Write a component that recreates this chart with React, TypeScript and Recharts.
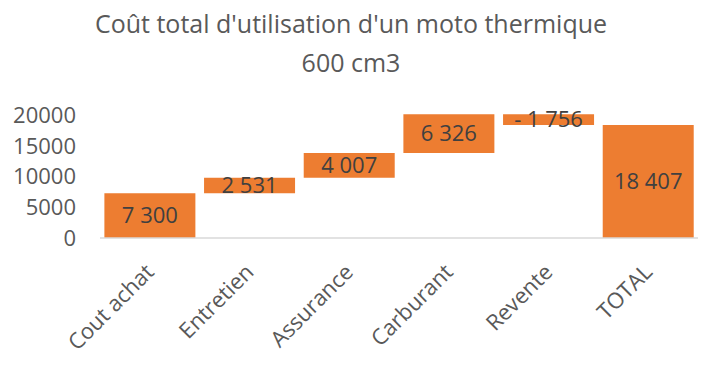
import { BarChart, Bar, XAxis, YAxis, LabelList } from "recharts";

const categories = ["Cout achat", "Entretien", "Assurance", "Carburant", "Revente", "TOTAL"];
const deltas = [7300, 2531, 4007, 6326, -1756];
const total = 18407;
const yTicks = [0, 5000, 10000, 15000, 20000];

const ORANGE = "#ED7D31";
const TEXT = "#595959";
const FONT = "'Open Sans', sans-serif";

const fmt = (v: number) => {
  const s = Math.abs(v)
    .toString()
    .replace(/\B(?=(\d{3})+(?!\d))/g, " ");
  return v < 0 ? `- ${s}` : s;
};

// waterfall: an invisible base plus the visible step
let running = 0;
const data = categories.map((name, i) => {
  if (i === deltas.length) {
    return { name, base: 0, value: total, label: fmt(total) };
  }
  const d = deltas[i];
  const base = Math.min(running, running + d);
  running += d;
  return { name, base, value: Math.abs(d), label: fmt(d) };
});

function XTick({ x, y, payload }: { x?: number; y?: number; payload?: { value: string } }) {
  const ty = (y ?? 0) + 30;
  return (
    <text
      x={x}
      y={ty}
      dy="0.35em"
      transform={`rotate(-45 ${x} ${ty})`}
      textAnchor="end"
      fill={TEXT}
      fontSize={22}
      fontFamily={FONT}
    >
      {payload?.value}
    </text>
  );
}

export default function App() {
  return (
    <div style={{ position: "absolute", left: 0, top: 0, width: 720, height: 365, background: "#fff" }}>
      <svg
        width={720}
        height={100}
        style={{ position: "absolute", left: 0, top: 0, pointerEvents: "none" }}
      >
        <text x={351} y={33} textAnchor="middle" fill={TEXT} fontSize={25} fontFamily={FONT}>
          Coût total d'utilisation d'un moto thermique
        </text>
        <text x={351} y={72} textAnchor="middle" fill={TEXT} fontSize={25} fontFamily={FONT}>
          600 cm3
        </text>
      </svg>
      <BarChart
        width={720}
        height={365}
        data={data}
        margin={{ top: 114, right: 22, left: 0, bottom: 0 }}
        barCategoryGap="4.4%"
      >
        <XAxis
          dataKey="name"
          height={127}
          tickLine={false}
          tickSize={0}
          tickMargin={0}
          axisLine={{ stroke: "#D9D9D9", strokeWidth: 1.5 }}
          interval={0}
          tick={<XTick />}
        />
        <YAxis
          width={100}
          domain={[0, 20200]}
          ticks={yTicks}
          interval={0}
          axisLine={false}
          tickLine={false}
          tickSize={6}
          tickMargin={18}
          tick={{ fill: TEXT, fontSize: 22, fontFamily: FONT }}
        />
        <Bar dataKey="base" stackId="w" fill="transparent" isAnimationActive={false} />
        <Bar dataKey="value" stackId="w" fill={ORANGE} isAnimationActive={false}>
          <LabelList
            dataKey="label"
            position="center"
            fill="#404040"
            fontSize={22}
            fontFamily={FONT}
          />
        </Bar>
      </BarChart>
    </div>
  );
}
